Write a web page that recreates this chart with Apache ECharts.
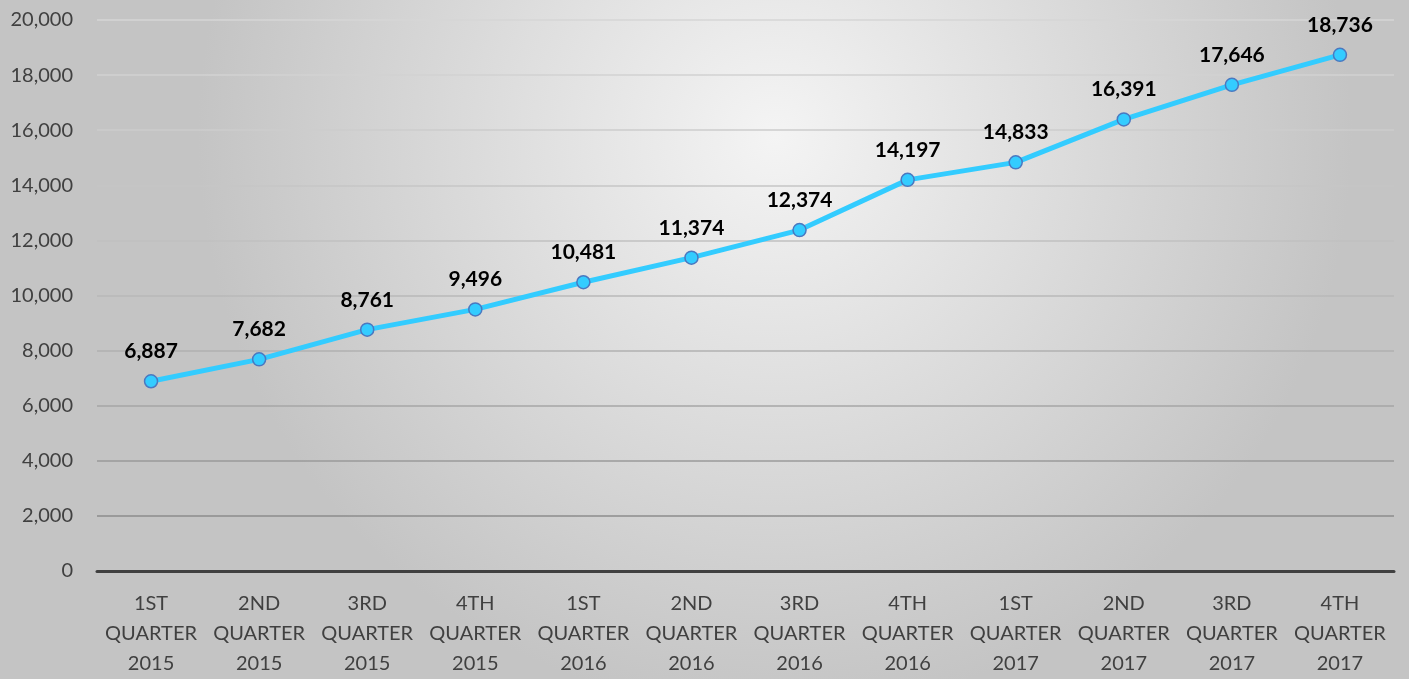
<!DOCTYPE html>
<html>
<head>
<meta charset="utf-8">
<script src="https://cdn.jsdelivr.net/npm/echarts@6/dist/echarts.min.js"></script>
<style>
  html,body{margin:0;padding:0;width:100%;height:100%;overflow:hidden}
  #chart{width:1409px;height:679px}
</style>
</head>
<body>
<div id="chart"></div>
<script>
// categories (3-line labels)
const quarters = [
  '1ST\nQUARTER\n2015','2ND\nQUARTER\n2015','3RD\nQUARTER\n2015','4TH\nQUARTER\n2015',
  '1ST\nQUARTER\n2016','2ND\nQUARTER\n2016','3RD\nQUARTER\n2016','4TH\nQUARTER\n2016',
  '1ST\nQUARTER\n2017','2ND\nQUARTER\n2017','3RD\nQUARTER\n2017','4TH\nQUARTER\n2017'
]
const values = [6887, 7682, 8761, 9496, 10481, 11374, 12374, 14197, 14833, 16391, 17646, 18736]
const yMin = 0
const yMax = 20000
const yStep = 2000

const chart = echarts.init(document.getElementById('chart'))
const FONT = 'Lato, "Open Sans", sans-serif'

chart.setOption({
  animation:false,
  backgroundColor:{
    type:'radial', x:0.55, y:0.2, r:0.85,
    colorStops:[
      {offset:0, color:'#f4f4f4'},
      {offset:1, color:'#c4c4c4'}
    ]
  },
  grid:{left:97, right:15, top:20, bottom:106},
  xAxis:{
    type:'category',
    data:quarters,
    boundaryGap:true,
    axisTick:{show:false},
    axisLine:{lineStyle:{color:'#404040', width:3}},
    axisLabel:{
      interval:0,
      margin:18,
      color:'#404040',
      fontSize:20,
      lineHeight:30,
      fontFamily:FONT
    }
  },
  yAxis:{
    type:'value',
    min:yMin,
    max:yMax,
    interval:yStep,
    axisLine:{show:false},
    axisTick:{show:false},
    axisLabel:{
      margin:24,
      color:'#404040',
      fontSize:20,
      fontFamily:FONT,
      formatter:v=>v.toLocaleString('en-US')
    },
    splitLine:{
      lineStyle:{
        width:1.5,
        color:['#404040','#8c8c8c','#9a9a9a','#a6a6a6','#b0b0b0','#b8b8b8','#c0c0c0','#c6c6c6','#cccccc','#d2d2d2','#d6d6d6']
      }
    }
  },
  series:[{
    type:'line',
    data:values,
    symbol:'circle',
    symbolSize:13,
    lineStyle:{color:'#33ccff', width:5},
    itemStyle:{color:'#33ccff', borderColor:'#4a78c0', borderWidth:1.5},
    label:{
      show:true,
      position:'top',
      distance:12,
      color:'#000',
      fontSize:21,
      fontWeight:'bold',
      fontFamily:FONT,
      formatter:p=>p.value.toLocaleString('en-US')
    }
  }]
})
</script>
</body>
</html>
